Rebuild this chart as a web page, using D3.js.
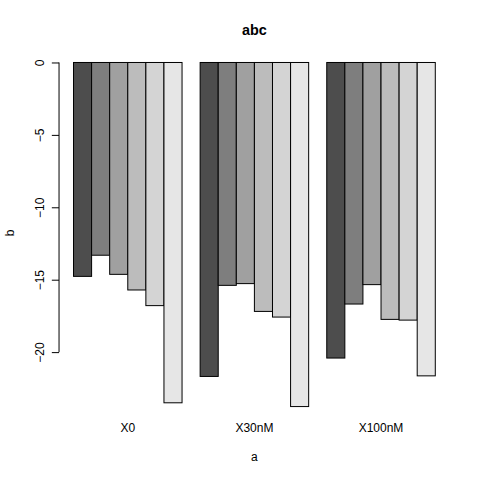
<!DOCTYPE html>
<html>
<head>
<meta charset="utf-8">
<script src="https://cdn.jsdelivr.net/npm/d3@7"></script>
<style>
  body { margin: 0; background: #fff; }
  text { font-family: "Liberation Sans", Arial, sans-serif; }
</style>
</head>
<body>
<div id="chart"></div>
<script>
// groups along x, and one series of values per bar position
const groups = ["X0", "X30nM", "X100nM"];
const series1 = [-14.77, -21.68, -20.41];
const series2 = [-13.31, -15.39, -16.68];
const series3 = [-14.63, -15.27, -15.34];
const series4 = [-15.71, -17.19, -17.74];
const series5 = [-16.79, -17.58, -17.79];
const series6 = [-23.50, -23.76, -21.64];
const yTicks = [0, -5, -10, -15, -20];
const barColors = ["#4D4D4D", "#7E7E7E", "#A0A0A0", "#BCBCBC", "#D4D4D4", "#E6E6E6"];

const allSeries = [series1, series2, series3, series4, series5, series6];

const width = 480, height = 480;
const margin = { left: 59.04, right: 30.24, top: 59.04, bottom: 73.44 };

const svg = d3.select("#chart").append("svg")
    .attr("width", width)
    .attr("height", height);

// bars: 6 per group, one unit gap before each group (like R barplot beside=TRUE)
const nBars = allSeries.length;
const totalUnits = groups.length * (nBars + 1);
const x = d3.scaleLinear()
    .domain([1 - 0.04 * (totalUnits - 1), totalUnits + 0.04 * (totalUnits - 1)])
    .range([margin.left, width - margin.right]);

const minVal = d3.min(allSeries.flat());
const y = d3.scaleLinear()
    .domain([minVal, -0.01 * minVal])
    .range([height - margin.bottom, margin.top]);

const bars = [];
groups.forEach((g, gi) => {
    allSeries.forEach((s, si) => {
        bars.push({ group: g, gi: gi, si: si, value: s[gi] });
    });
});

svg.append("g")
    .selectAll("rect")
    .data(bars)
    .join("rect")
    .attr("x", d => x(1 + d.gi * (nBars + 1) + d.si))
    .attr("width", d => x(2) - x(1))
    .attr("y", d => y(0))
    .attr("height", d => y(d.value) - y(0))
    .attr("fill", d => barColors[d.si])
    .attr("stroke", "black")
    .attr("stroke-width", 1);

// y axis
const yAxis = svg.append("g")
    .attr("transform", `translate(${margin.left},0)`)
    .call(d3.axisLeft(y).tickValues(yTicks).tickSize(7.2).tickPadding(0));
yAxis.select(".domain").remove();
yAxis.selectAll(".tick line").attr("stroke", "black");
yAxis.append("line")
    .attr("x1", 0).attr("x2", 0)
    .attr("y1", y(d3.max(yTicks))).attr("y2", y(d3.min(yTicks)))
    .attr("stroke", "black");
yAxis.selectAll(".tick text")
    .attr("x", null).attr("dy", null)
    .attr("fill", "black")
    .style("font-size", "12px")
    .attr("text-anchor", "middle")
    .attr("transform", "translate(-15.5,0) rotate(-90)");

// group labels
svg.append("g")
    .selectAll("text")
    .data(groups)
    .join("text")
    .attr("x", (d, i) => x(1 + i * (nBars + 1) + nBars / 2))
    .attr("y", 432)
    .attr("text-anchor", "middle")
    .style("font-size", "12px")
    .text(d => d);

// title and axis labels
svg.append("text")
    .attr("x", (margin.left + width - margin.right) / 2)
    .attr("y", 35)
    .attr("text-anchor", "middle")
    .style("font-size", "14.4px")
    .style("font-weight", "bold")
    .text("abc");

svg.append("text")
    .attr("x", (margin.left + width - margin.right) / 2)
    .attr("y", 461)
    .attr("text-anchor", "middle")
    .style("font-size", "12px")
    .text("a");

svg.append("text")
    .attr("transform", `translate(13.5,${(margin.top + height - margin.bottom) / 2}) rotate(-90)`)
    .attr("text-anchor", "middle")
    .style("font-size", "12px")
    .text("b");
</script>
</body>
</html>
